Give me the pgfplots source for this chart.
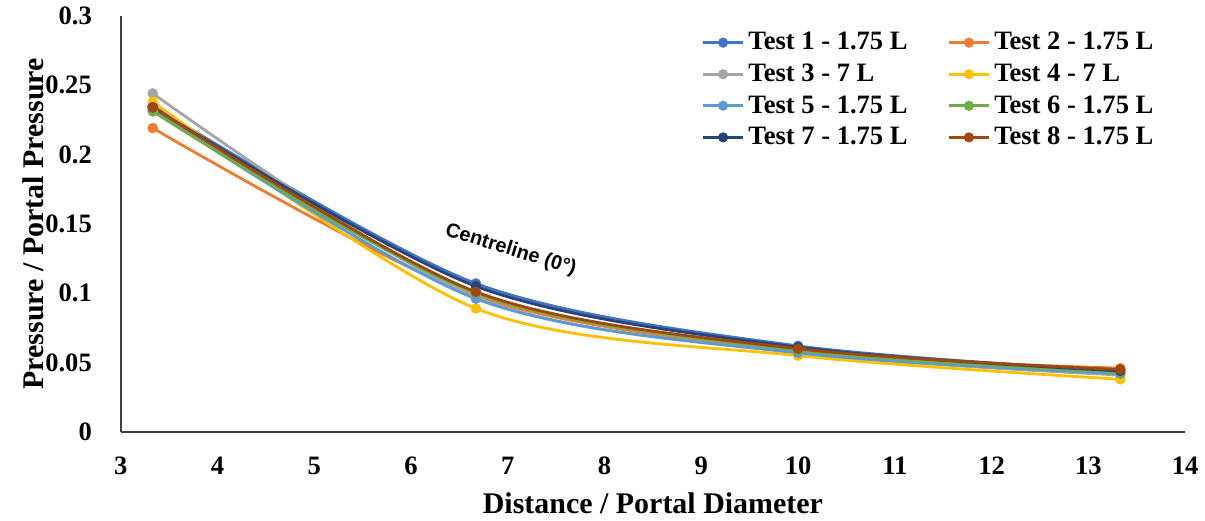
\documentclass[border=0pt]{standalone}
\usepackage{fontspec}
\setmainfont{Liberation Serif}
\setsansfont{Liberation Sans}
\usepackage{pgfplots}
\pgfplotsset{compat=1.18}

\definecolor{c1}{HTML}{4472C4}
\definecolor{c2}{HTML}{ED7D31}
\definecolor{c3}{HTML}{A5A5A5}
\definecolor{c4}{HTML}{FFC000}
\definecolor{c5}{HTML}{5B9BD5}
\definecolor{c6}{HTML}{70AD47}
\definecolor{c7}{HTML}{264478}
\definecolor{c8}{HTML}{9E480E}

\begin{document}
\begin{tikzpicture}
\begin{axis}[
  width=533pt, height=208.5pt,
  scale only axis,
  xmin=3, xmax=14, ymin=0, ymax=0.3,
  xtick={3,4,...,14},
  ytick={0,0.05,0.1,0.15,0.2,0.25,0.3},
  yticklabels={0,0.05,0.1,0.15,0.2,0.25,0.3},
  axis lines=left,
  axis line style={-, draw=black!75, line width=0.8pt},
  major tick length=0pt,
  tick label style={font=\fontsize{13.3}{15}\selectfont\bfseries},
  /pgf/number format/assume math mode=true,
  xticklabel style={yshift=-9pt},
  yticklabel style={anchor=east, xshift=-11pt},
  xlabel={Distance / Portal Diameter},
  ylabel={Pressure / Portal Pressure},
  label style={font=\fontsize{15}{17}\selectfont\bfseries},
  xlabel style={yshift=-2pt},
  ylabel style={yshift=-6pt},
  legend columns=2,
  legend style={draw=none, fill=none, at={(0.98,0.98)}, anchor=north east,
    font=\fontsize{13.3}{15}\selectfont\bfseries, row sep=1.5pt,
    /tikz/every even column/.append style={column sep=18pt}},
  legend cell align=left,
  legend image code/.code={
    \draw[#1, line width=1.5pt] (0cm,0cm) -- (0.7cm,0cm);
    \fill[#1] (0.35cm,0cm) circle (1.8pt);
  },
  every axis plot/.append style={line width=1.4pt, smooth, mark=*, mark size=1.9pt, tension=0.5},
  clip=false
]
\addplot[c1, mark options={fill=c1}] coordinates {(3.33,0.235) (6.67,0.107) (10,0.062) (13.33,0.044)};
\addlegendentry{Test 1 - 1.75 L}
\addplot[c2, mark options={fill=c2}] coordinates {(3.33,0.219) (6.67,0.098) (10,0.058) (13.33,0.046)};
\addlegendentry{Test 2 - 1.75 L}
\addplot[c3, mark options={fill=c3}] coordinates {(3.33,0.244) (6.67,0.097) (10,0.057) (13.33,0.041)};
\addlegendentry{Test 3 - 7 L}
\addplot[c4, mark options={fill=c4}] coordinates {(3.33,0.238) (6.67,0.089) (10,0.055) (13.33,0.038)};
\addlegendentry{Test 4 - 7 L}
\addplot[c5, mark options={fill=c5}] coordinates {(3.33,0.232) (6.67,0.096) (10,0.057) (13.33,0.042)};
\addlegendentry{Test 5 - 1.75 L}
\addplot[c6, mark options={fill=c6}] coordinates {(3.33,0.231) (6.67,0.100) (10,0.059) (13.33,0.043)};
\addlegendentry{Test 6 - 1.75 L}
\addplot[c7, mark options={fill=c7}] coordinates {(3.33,0.234) (6.67,0.105) (10,0.061) (13.33,0.044)};
\addlegendentry{Test 7 - 1.75 L}
\addplot[c8, mark options={fill=c8}] coordinates {(3.33,0.234) (6.67,0.101) (10,0.060) (13.33,0.045)};
\addlegendentry{Test 8 - 1.75 L}
\node[font=\sffamily\bfseries\fontsize{10}{12}\selectfont, rotate=-17] at (axis cs:7.03,0.131) {Centreline (0°)};
\path (rel axis cs:0,0) ++(-60.5pt,0pt);
\end{axis}
\end{tikzpicture}
\end{document}
